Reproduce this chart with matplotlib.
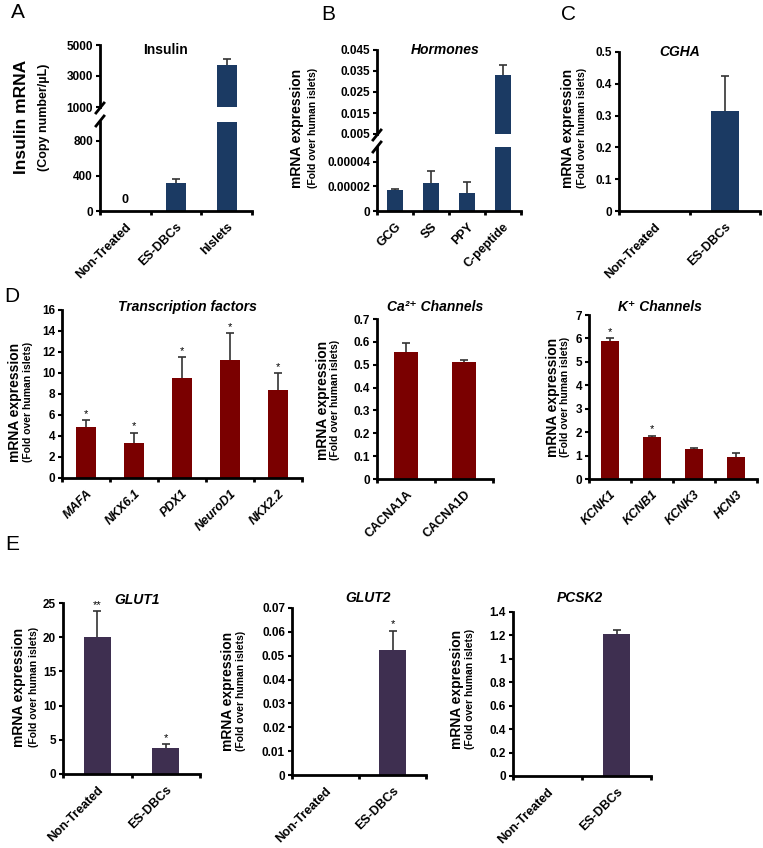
import numpy as np
import matplotlib
matplotlib.use("Agg")
import matplotlib.pyplot as plt
from matplotlib.lines import Line2D

plt.rcParams['font.family'] = ['Liberation Sans', 'DejaVu Sans']

# =========================================================
# DATA
# =========================================================
groups = ["Non-Treated", "ES-DBCs"]

# A - insulin copy number
ins_groups = ["Non-Treated", "ES-DBCs", "hIslets"]
ins_mean = [0, 320, 3700]
ins_err = [0, 40, 400]

# B - hormones
horm_names = ["GCG", "SS", "PPY", "C-peptide"]
horm_mean = [0.000017, 0.000023, 0.000015, 0.033]
horm_err = [0.000001, 0.0000095, 0.0000085, 0.005]

# C - CGHA
cgha_mean = [0, 0.315]
cgha_err = [0, 0.11]

# D - transcription factors / channels
tf_names = ["MAFA", "NKX6.1", "PDX1", "NeuroD1", "NKX2.2"]
tf_mean = [4.85, 3.35, 9.5, 11.25, 8.35]
tf_err = [0.65, 0.95, 2.0, 2.55, 1.65]
tf_star = ["*", "*", "*", "*", "*"]

ca_names = ["CACNA1A", "CACNA1D"]
ca_mean = [0.555, 0.51]
ca_err = [0.04, 0.01]

k_names = ["KCNK1", "KCNB1", "KCNK3", "HCN3"]
k_mean = [5.9, 1.78, 1.28, 0.92]
k_err = [0.1, 0.07, 0.04, 0.18]
k_star = ["*", "*", "", ""]

# E - GLUT1 / GLUT2 / PCSK2
glut1_mean = [20.0, 3.85]
glut1_err = [3.8, 0.5]
glut1_star = ["**", "*"]

glut2_mean = [0, 0.0525]
glut2_err = [0, 0.008]
glut2_star = ["", "*"]

pcsk2_mean = [0, 1.21]
pcsk2_err = [0, 0.035]

BLUE = "#1b3a63"
RED = "#7a0000"
PURPLE = "#3e2f50"

# =========================================================
# HELPERS
# =========================================================
W, H = 763, 848
fig = plt.figure(figsize=(W / 100, H / 100), dpi=100)


def add_ax(l, t, r, b):
    return fig.add_axes([l / W, 1 - b / H, (r - l) / W, (b - t) / H])


def ftext(x, y, s, **kw):
    fig.text(x / W, 1 - y / H, s, **kw)


def style(ax, ylim, yticks, labels=None):
    for s in ["top", "right"]:
        ax.spines[s].set_visible(False)
    ax.spines["left"].set_linewidth(2)
    ax.spines["bottom"].set_linewidth(2)
    ax.set_ylim(ylim)
    if labels is None:
        labels = ["%g" % v for v in yticks]
    ax.set_yticks(yticks, labels)
    ax.tick_params(axis="y", direction="out", length=3, width=1.5,
                   labelsize=8.5, pad=2)
    for lab in ax.get_yticklabels():
        lab.set_fontweight("bold")


def cats(ax, names, italic=False):
    n = len(names)
    x = np.arange(n)
    ax.set_xlim(-0.5, n - 0.5)
    ax.set_xticks(x, names, rotation=45, ha="right", rotation_mode="anchor",
                  fontsize=9, fontweight="bold",
                  fontstyle="italic" if italic else "normal")
    ax.tick_params(axis="x", which="major", length=0, pad=7)
    ax.set_xticks(np.arange(n + 1) - 0.5, minor=True)
    ax.tick_params(axis="x", which="minor", length=3, width=2, direction="out")


def bars(ax, mean, err, color, width=0.4, stars=None):
    mean = np.array(mean, dtype=float)
    err = np.array(err, dtype=float)
    x = np.arange(len(mean))
    ax.bar(x, mean, width=width, color=color, edgecolor="none")
    m = mean > 0
    # one-sided error bars: stem up from the bar top plus a cap
    ax.vlines(x[m], mean[m], mean[m] + err[m], color="#333333", lw=1.2)
    ax.plot(x[m], mean[m] + err[m], ls="none", marker="_", ms=6, mew=1.2,
            color="#333333")
    if stars:
        for xi, yi, s in zip(x, mean + err, stars):
            if s:
                ax.annotate(s, (xi, yi), xytext=(0, 1), textcoords="offset points",
                            ha="center", va="bottom", fontsize=8)


def ylab(x1, x2, y, big, small, bigsize=10, smallsize=7.5):
    ftext(x1, y, big, rotation=90, ha="center", va="center",
          fontsize=bigsize, fontweight="bold")
    ftext(x2, y, small, rotation=90, ha="center", va="center",
          fontsize=smallsize, fontweight="bold")


def brk(x, y):
    # small slanted break mark on the y axis (pixel coords)
    fig.add_artist(Line2D([(x - 4) / W, (x + 4) / W],
                          [1 - (y + 5) / H, 1 - (y - 5) / H],
                          color="black", lw=2))


title_kw = dict(ha="center", va="center", fontsize=10, fontweight="bold")

# =========================================================
# PANEL A
# =========================================================
axA_up = add_ax(100, 45, 252, 107)
axA_lo = add_ax(100, 122, 252, 211)
for ax in (axA_up, axA_lo):
    bars(ax, ins_mean, ins_err, BLUE)
    cats(ax, ins_groups)
style(axA_up, (1000, 5000), [1000, 3000, 5000])
style(axA_lo, (0, 1017), [0, 400, 800])
axA_up.spines["bottom"].set_visible(False)
axA_up.tick_params(axis="x", which="both", length=0, labelbottom=False)
axA_lo.text(0, 130, "0", ha="center", va="center", fontsize=9, fontweight="bold")
brk(100, 108)
brk(100, 121)
ftext(165, 50, "Insulin", **title_kw)
ylab(22, 44, 117, "Insulin mRNA", "(Copy number/µL)", bigsize=12.5, smallsize=9)

# =========================================================
# PANEL B
# =========================================================
axB_up = add_ax(377, 50, 521, 134)
axB_lo = add_ax(377, 147, 521, 211)
for ax in (axB_up, axB_lo):
    bars(ax, horm_mean, horm_err, BLUE, width=0.42)
    cats(ax, horm_names)
style(axB_up, (0.005, 0.045), [0.005, 0.015, 0.025, 0.035, 0.045])
style(axB_lo, (0, 0.0000522), [0, 0.00002, 0.00004], ["0", "0.00002", "0.00004"])
axB_up.spines["bottom"].set_visible(False)
axB_up.tick_params(axis="x", which="both", length=0, labelbottom=False)
brk(377, 135)
brk(377, 147)
ftext(445, 50, "Hormones", style="italic", **title_kw)
ylab(297, 313, 128, "mRNA expression", "(Fold over human islets)")

# =========================================================
# PANEL C
# =========================================================
axC = add_ax(619, 52, 760, 211)
bars(axC, cgha_mean, cgha_err, BLUE)
cats(axC, groups)
style(axC, (0, 0.5), [0, 0.1, 0.2, 0.3, 0.4, 0.5])
ftext(680, 52, "CGHA", style="italic", **title_kw)
ylab(568, 582, 128, "mRNA expression", "(Fold over human islets)")

# =========================================================
# PANEL D
# =========================================================
axD1 = add_ax(62, 310, 302, 478)
bars(axD1, tf_mean, tf_err, RED, width=0.42, stars=tf_star)
cats(axD1, tf_names, italic=True)
style(axD1, (0, 16), [0, 2, 4, 6, 8, 10, 12, 14, 16])
ftext(187, 307, "Transcription factors", style="italic", **title_kw)
ylab(15, 28, 402, "mRNA expression", "(Fold over human islets)")

axD2 = add_ax(377, 319, 493, 479)
bars(axD2, ca_mean, ca_err, RED, width=0.42)
cats(axD2, ca_names)
style(axD2, (0, 0.7), [0, 0.1, 0.2, 0.3, 0.4, 0.5, 0.6, 0.7])
ftext(435, 307, "Ca²⁺ Channels", style="italic", **title_kw)
ylab(323, 335, 400, "mRNA expression", "(Fold over human islets)")

axD3 = add_ax(589, 315, 757, 479)
bars(axD3, k_mean, k_err, RED, width=0.42, stars=k_star)
cats(axD3, k_names, italic=True)
style(axD3, (0, 7), [0, 1, 2, 3, 4, 5, 6, 7])
ftext(660, 307, "K⁺ Channels", style="italic", **title_kw)
ylab(553, 565, 397, "mRNA expression", "(Fold over human islets)")

# =========================================================
# PANEL E
# =========================================================
axE1 = add_ax(63, 603, 200, 774)
bars(axE1, glut1_mean, glut1_err, PURPLE, stars=glut1_star)
cats(axE1, groups)
style(axE1, (0, 25), [0, 5, 10, 15, 20, 25])
ftext(137, 600, "GLUT1", style="italic", **title_kw)
ylab(19, 34, 687, "mRNA expression", "(Fold over human islets)")

axE2 = add_ax(292, 608, 426, 775)
bars(axE2, glut2_mean, glut2_err, PURPLE, stars=glut2_star)
cats(axE2, groups)
style(axE2, (0, 0.07), [0, 0.01, 0.02, 0.03, 0.04, 0.05, 0.06, 0.07])
ftext(368, 598, "GLUT2", style="italic", **title_kw)
ylab(228, 241, 691, "mRNA expression", "(Fold over human islets)")

axE3 = add_ax(513, 612, 651, 776)
bars(axE3, pcsk2_mean, pcsk2_err, PURPLE)
cats(axE3, groups)
style(axE3, (0, 1.4), [0, 0.2, 0.4, 0.6, 0.8, 1.0, 1.2, 1.4])
ftext(580, 598, "PCSK2", style="italic", **title_kw)
ylab(457, 470, 689, "mRNA expression", "(Fold over human islets)")

# panel letters
for lx, ly, s in [(18, 13, "A"), (328, 15, "B"), (568, 15, "C"),
                  (12, 296, "D"), (12, 545, "E")]:
    ftext(lx, ly, s, ha="center", va="center", fontsize=15)

fig.savefig("out.png", dpi=100, facecolor="white")
